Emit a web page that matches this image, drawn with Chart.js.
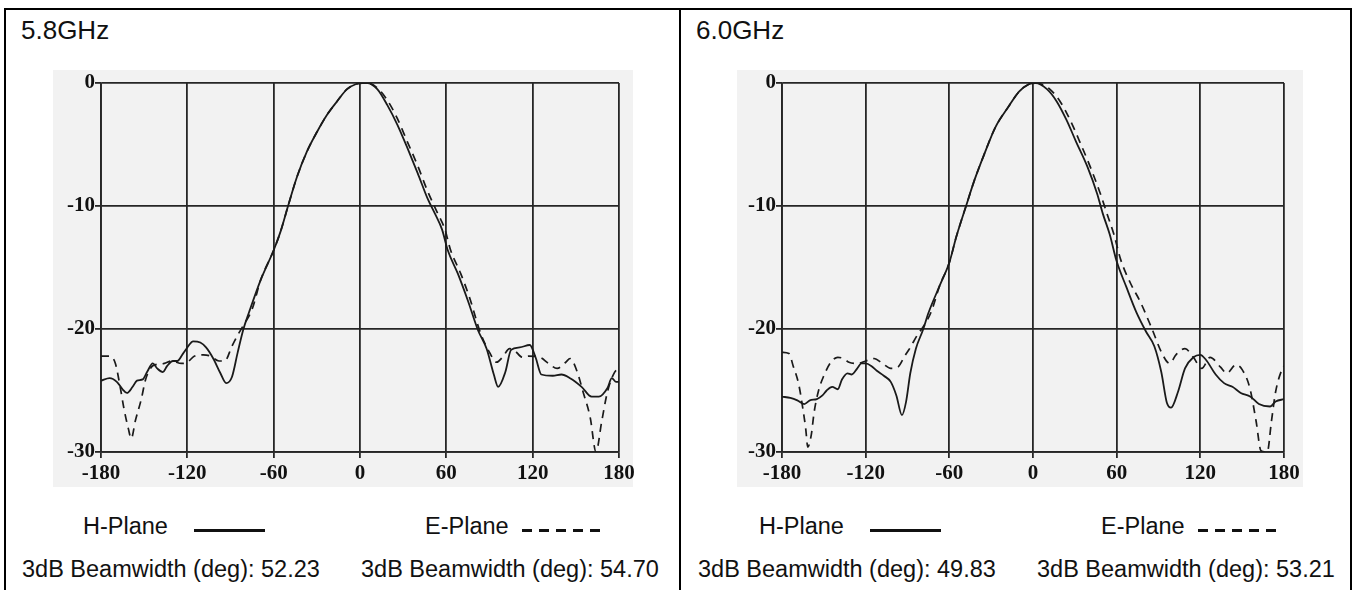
<!DOCTYPE html>
<html>
<head>
<meta charset="utf-8">
<script src="https://cdn.jsdelivr.net/npm/chart.js@4.4.1/dist/chart.umd.min.js"></script>
<style>
    html, body { margin: 0; padding: 0; background: #fff; }
    body { width: 1354px; height: 590px; position: relative; overflow: hidden; font-family: "Liberation Sans", Arial, sans-serif; color: #111; }
    .abs { position: absolute; }
    .txt { position: absolute; line-height: 1; white-space: nowrap; font-size: 23.5px; }
    .title { font-size: 26px; }
    .paper { position: absolute; background: #f2f2f2; }
    .hline { position: absolute; height: 3px; background: #111; }
    .dash { position: absolute; height: 3px; width: 10px; background: #111; }
    .rule { position: absolute; background: #000; }
    canvas { position: absolute; }
</style>
</head>
<body>
<div class="rule" style="left:4px;top:8px;width:1348px;height:2px"></div>
<div class="rule" style="left:4px;top:8px;width:2px;height:582px"></div>
<div class="rule" style="left:679px;top:8px;width:2px;height:582px"></div>
<div class="rule" style="left:1350px;top:8px;width:2px;height:582px"></div>

<div class="paper" style="left:53px;top:70px;width:580px;height:417px"></div>
<div class="paper" style="left:737px;top:70px;width:566px;height:417px"></div>

<canvas id="chart58" width="610" height="440" style="left:40px;top:60px"></canvas>
<canvas id="chart60" width="610" height="440" style="left:720px;top:60px"></canvas>

<div class="txt title" style="left:21px;top:17px">5.8GHz</div>
<div class="txt title" style="left:696px;top:17px">6.0GHz</div>

<div class="txt" style="left:83px;top:515px">H-Plane</div>
<div class="hline" style="left:194px;top:529px;width:71px"></div>
<div class="txt" style="left:425px;top:515px">E-Plane</div>
<div id="dashes58" class="abs" style="left:522px;top:529px"></div>
<div class="txt" style="left:22px;top:558px">3dB Beamwidth (deg): 52.23</div>
<div class="txt" style="left:361px;top:558px">3dB Beamwidth (deg): 54.70</div>

<div class="txt" style="left:759px;top:515px">H-Plane</div>
<div class="hline" style="left:870px;top:529px;width:71px"></div>
<div class="txt" style="left:1101px;top:515px">E-Plane</div>
<div id="dashes60" class="abs" style="left:1198px;top:529px"></div>
<div class="txt" style="left:698px;top:558px">3dB Beamwidth (deg): 49.83</div>
<div class="txt" style="left:1037px;top:558px">3dB Beamwidth (deg): 53.21</div>

<script>
// axis ticks
const angleTicks = [-180, -120, -60, 0, 60, 120, 180];
const gainTicks = [0, -10, -20, -30];

// 5.8 GHz, H-plane (solid)
const angleH58 = [-180, -174, -169, -165, -162, -158, -155, -151, -148, -144, -141, -137, -134, -130, -127, -123, -120, -116, -111, -107,
    -102, -97, -93, -89, -85, -81, -77, -69, -60, -55, -50, -44, -37, -30, -23, -16, -9, -3, 2, 5,
    12, 19, 26, 33, 40, 47, 52, 57, 61, 68, 75, 82, 88, 93, 96, 101, 105, 111, 118, 122,
    126, 134, 140, 146, 154, 161, 166, 172, 175, 178, 180];
const gainH58 = [-24.2, -24.0, -24.3, -24.9, -25.2, -24.7, -24.2, -24.1, -23.5, -22.8, -23.2, -23.5, -23.0, -22.6, -22.6, -22.0, -21.5, -21.0, -21.1, -21.5,
    -22.4, -23.6, -24.4, -23.9, -21.9, -20.0, -18.6, -16.0, -13.6, -12.0, -10.0, -7.7, -5.6, -4.0, -2.6, -1.5, -0.5, -0.1, 0, 0,
    -0.5, -1.8, -3.4, -5.3, -7.3, -9.4, -10.6, -11.9, -13.6, -15.5, -17.7, -20.1, -21.6, -23.7, -24.7, -23.5, -21.7, -21.5, -21.3, -22.3,
    -23.7, -23.8, -23.7, -24.0, -24.7, -25.5, -25.5, -24.8, -24.0, -24.3, -24.3];

// 5.8 GHz, E-plane (dashed)
const angleE58 = [-180, -174, -170, -167, -164, -161, -159, -156, -152, -149, -145, -142, -136, -131, -124, -120, -115, -109, -104, -98,
    -94, -89, -85, -81, -75, -69, -60, -55, -50, -44, -37, -30, -23, -16, -9, -3, 2, 5, 12, 19,
    26, 33, 40, 47, 54, 59, 63, 70, 76, 84, 90, 95, 99, 104, 107, 113, 117, 125, 131, 137,
    143, 146, 151, 155, 160, 164, 168, 172, 177, 180];
const gainE58 = [-22.2, -22.2, -22.8, -24.5, -26.5, -28.1, -28.9, -27.4, -25.7, -24.1, -23.1, -22.9, -22.8, -22.6, -22.8, -22.7, -22.2, -22.1, -22.2, -22.6,
    -22.6, -21.4, -20.5, -19.7, -18.4, -16.0, -13.6, -12.0, -10.0, -7.7, -5.6, -4.0, -2.6, -1.5, -0.5, -0.1, 0, 0, -0.4, -1.4,
    -2.9, -4.8, -6.7, -8.8, -10.6, -11.9, -13.6, -15.5, -17.4, -20.4, -21.9, -22.7, -22.3, -21.6, -21.7, -22.3, -22.2, -22.3, -22.8, -23.2,
    -22.7, -22.4, -23.5, -25.1, -27.2, -30, -27.5, -25.1, -23.5, -23.2];

// 6.0 GHz, H-plane (solid)
const angleH60 = [-180, -174, -169, -164, -160, -155, -151, -148, -144, -140, -137, -133, -130, -126, -123, -120, -116, -112, -107, -102,
    -98, -94, -91, -88, -84, -79, -75, -67, -60, -55, -48, -42, -35, -27, -18, -10, -3, 2, 10, 17,
    24, 31, 39, 46, 50, 55, 60, 67, 74, 81, 87, 92, 96, 99, 104, 109, 115, 120, 124, 131,
    137, 143, 149, 156, 162, 170, 174, 180];
const gainH60 = [-25.5, -25.6, -25.8, -26.1, -25.8, -25.7, -25.4, -25.0, -24.7, -24.9, -24.1, -23.6, -23.7, -23.2, -22.8, -22.8, -23.0, -23.4, -23.8, -24.3,
    -25.4, -27.0, -25.9, -23.6, -21.6, -20.1, -18.7, -16.5, -14.6, -12.5, -10.0, -7.9, -5.8, -3.6, -2.0, -0.7, -0.1, 0, -0.5, -1.5,
    -3.0, -4.8, -6.8, -9.0, -10.6, -12.3, -14.5, -16.6, -18.6, -20.2, -21.4, -23.5, -26.0, -26.4, -25.1, -23.2, -22.3, -22.1, -22.5, -23.7,
    -24.4, -24.7, -25.2, -25.5, -26.1, -26.3, -25.9, -25.7];

// 6.0 GHz, E-plane (dashed)
const angleE60 = [-180, -175, -172, -168, -165, -163, -161.5, -159, -157, -154, -150, -145, -140, -136, -132, -126, -120, -114, -108, -102,
    -97, -92, -88, -83, -78, -73, -67, -60, -55, -48, -42, -35, -27, -18, -10, -3, 2, 12, 20, 27,
    34, 41, 48, 53, 58, 63, 70, 77, 85, 93, 98, 102.5, 109, 115, 121, 127, 134.5, 139, 145.5, 150,
    155.5, 160, 163.5, 168, 171, 174, 178.5, 180];
const gainE60 = [-21.9, -22.0, -23.0, -24.5, -26.5, -28.1, -29.6, -28.6, -26.8, -25.1, -23.8, -22.7, -22.3, -22.4, -22.7, -22.8, -22.6, -22.4, -22.8, -23.2,
    -23.1, -22.2, -21.5, -20.5, -19.7, -18.6, -16.5, -14.6, -12.5, -10.0, -7.9, -5.8, -3.6, -2.0, -0.7, -0.1, 0, -0.5, -1.6, -3.1,
    -4.9, -6.8, -8.9, -10.6, -12.3, -14.4, -16.3, -17.8, -19.9, -22.1, -22.8, -22.1, -21.6, -22.3, -23.2, -22.3, -23.1, -23.6, -22.9, -23.3,
    -24.8, -27.5, -29.9, -30, -27.5, -25.1, -23.3, -23.0];

const inkColor = "#1a1a1a";
const gridColor = "#262626";
const serifFont = { family: "'Liberation Serif', 'DejaVu Serif', serif", size: 21, weight: "bold" };

function toPoints(xs, ys) {
    return xs.map((x, i) => ({ x: x, y: ys[i] }));
}

function drawDashes(id) {
    const box = document.getElementById(id);
    for (let i = 0; i < 5; i++) {
        const d = document.createElement("div");
        d.className = "dash";
        d.style.left = (i * 17) + "px";
        box.appendChild(d);
    }
}

function makeChart(elementId, hAngles, hGain, eAngles, eGain, axisWidth, padRight) {
    const el = document.getElementById(elementId);
    return new Chart(el, {
        type: "line",
        data: {
            datasets: [
                {
                    label: "H-Plane",
                    data: toPoints(hAngles, hGain),
                    borderColor: inkColor,
                    borderWidth: 1.8,
                    pointRadius: 0,
                    cubicInterpolationMode: "monotone",
                    fill: false
                },
                {
                    label: "E-Plane",
                    data: toPoints(eAngles, eGain),
                    borderColor: inkColor,
                    borderWidth: 1.7,
                    borderDash: [8, 6],
                    pointRadius: 0,
                    cubicInterpolationMode: "monotone",
                    fill: false
                }
            ]
        },
        options: {
            responsive: false,
            animation: false,
            devicePixelRatio: 1,
            layout: { padding: { top: 23, right: padRight, bottom: 0, left: 0 } },
            plugins: {
                legend: { display: false },
                tooltip: { enabled: false }
            },
            scales: {
                x: {
                    type: "linear",
                    min: -180,
                    max: 180,
                    afterBuildTicks: (scale) => {
                        scale.ticks = angleTicks.map(v => ({ value: v }));
                    },
                    afterFit: (scale) => { scale.height = 48; },
                    grid: { color: gridColor, lineWidth: 1.8, tickLength: 6, tickColor: gridColor },
                    border: { color: gridColor, width: 1.8 },
                    ticks: {
                        color: "#111",
                        padding: 3,
                        maxRotation: 0,
                        autoSkip: false,
                        font: serifFont
                    }
                },
                y: {
                    type: "linear",
                    min: -30,
                    max: 0,
                    afterBuildTicks: (scale) => {
                        scale.ticks = gainTicks.map(v => ({ value: v }));
                    },
                    afterFit: (scale) => { scale.width = axisWidth; },
                    grid: { color: gridColor, lineWidth: 1.8, tickLength: 6, tickColor: gridColor },
                    border: { color: gridColor, width: 1.8 },
                    ticks: {
                        color: "#111",
                        padding: 0,
                        font: serifFont
                    }
                }
            }
        }
    });
}

drawDashes("dashes58");
drawDashes("dashes60");
makeChart("chart58", angleH58, gainH58, angleE58, gainE58, 61, 31);
makeChart("chart60", angleH60, gainH60, angleE60, gainE60, 62, 46);
</script>
</body>
</html>
